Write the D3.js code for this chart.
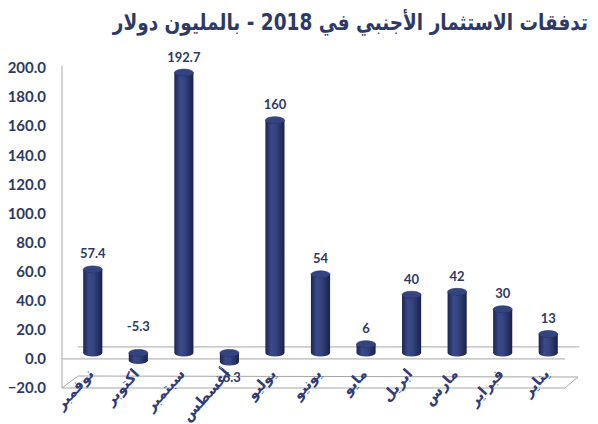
<!DOCTYPE html>
<html>
<head>
<meta charset="utf-8">
<script src="https://cdn.jsdelivr.net/npm/d3@7"></script>
<style>
  body { margin: 0; background: #fff; }
  svg { display: block; }
</style>
</head>
<body>
<div id="chart"></div>
<script>
// months from January (right) to November (left)
var months = ['يناير', 'فبراير', 'مارس', 'ابريل', 'مايو', 'يونيو', 'يوليو', 'أغسطس', 'سبتمبر', 'اكتوبر', 'نوفمبر'];
var values = [13, 30, 42, 40, 6, 54, 160, -6.3, 192.7, -5.3, 57.4];
var valueLabels = ['13', '30', '42', '40', '6', '54', '160', '-6.3', '192.7', '-5.3', '57.4'];
var yTicks = [-20, 0, 20, 40, 60, 80, 100, 120, 140, 160, 180, 200];
var title = 'تدفقات الاستثمار الأجنبي في 2018 - بالمليون دولار';

var width = 598;
var height = 424;
var depth = { x: 16, y: -12 };   // 3d offset of the back wall
var navy = '#2d3a66';

var svg = d3.select('#chart').
    append('svg').
    attr('width', width).
    attr('height', height);

var defs = svg.append('defs');
var grad = defs.append('linearGradient').
    attr('id', 'cyl').
    attr('x1', '0%').attr('x2', '100%').
    attr('y1', '0%').attr('y2', '0%');
grad.append('stop').attr('offset', '0%').attr('stop-color', '#1b2550');
grad.append('stop').attr('offset', '30%').attr('stop-color', '#3a4a8a');
grad.append('stop').attr('offset', '55%').attr('stop-color', '#34447f');
grad.append('stop').attr('offset', '100%').attr('stop-color', '#18214a');

// order left to right: November ... January
var domain = months.slice().reverse();

var xScale = d3.scaleBand().
    domain(domain).
    range([70, 571]);

var yScale = d3.scaleLinear().
    domain([-20, 200]).
    range([388, 68]);

// bars sit half way into the depth
var barY = d3.scaleLinear().
    domain(yScale.domain()).
    range(yScale.range().map(function (r) { return r + depth.y / 2; }));

var x0 = 62;
var x1 = 565;

// frame: back wall axis line, zero lines, floor
var frame = svg.append('g').
    attr('stroke', '#a6a6a6').
    attr('stroke-width', 1).
    attr('fill', 'none');

frame.append('line').
    attr('x1', x0).attr('x2', x0).
    attr('y1', yScale(200) - 2).attr('y2', yScale(-20));

frame.append('line').
    attr('x1', x0 + depth.x).attr('x2', x1 + depth.x - 2).
    attr('y1', yScale(0) + depth.y).attr('y2', yScale(0) + depth.y);

frame.append('line').
    attr('x1', x0).attr('x2', x1).
    attr('y1', yScale(0)).attr('y2', yScale(0));

frame.append('path').
    attr('d', 'M' + x0 + ',' + yScale(-20) +
        'L' + x1 + ',' + yScale(-20) +
        'L' + (x1 + depth.x - 3) + ',' + (yScale(-20) + depth.y + 1) +
        'L' + (x0 + depth.x) + ',' + (yScale(-20) + depth.y) + 'Z');

// y axis labels
var yAxis = d3.axisLeft(yScale).
    tickValues(yTicks).
    tickSize(0).
    tickPadding(0).
    tickFormat(d3.format('.1f'));

var yg = svg.append('g').
    attr('transform', 'translate(46,0)').
    call(yAxis);
yg.select('.domain').remove();
yg.selectAll('text').
    attr('fill', navy).
    attr('font-family', 'Lato, sans-serif').
    attr('font-weight', 'bold').
    attr('font-size', '15px');

// cylinders
var bw = xScale.bandwidth() * 0.42;
var ry = 3.5;
var data = domain.map(function (m) {
    var i = months.indexOf(m);
    return { month: m, value: values[i], label: valueLabels[i] };
});

var bars = svg.append('g').
    selectAll('g').
    data(data).
    enter().
    append('g');

bars.each(function (d) {
    var g = d3.select(this);
    var cx = xScale(d.month) + xScale.bandwidth() / 2;
    var top = barY(Math.max(0, d.value));
    var bot = barY(Math.min(0, d.value));
    g.append('path').
        attr('d', 'M' + (cx - bw / 2) + ',' + top +
            'L' + (cx - bw / 2) + ',' + bot +
            'A' + (bw / 2) + ',' + ry + ' 0 0 0 ' + (cx + bw / 2) + ',' + bot +
            'L' + (cx + bw / 2) + ',' + top + 'Z').
        attr('fill', 'url(#cyl)');
    g.append('ellipse').
        attr('cx', cx).
        attr('cy', top).
        attr('rx', bw / 2).
        attr('ry', ry).
        attr('fill', '#34447e').
        attr('stroke', '#263366').
        attr('stroke-width', 0.6);
});

// month labels, rotated
svg.append('g').
    selectAll('text').
    data(domain).
    enter().
    append('text').
    attr('transform', function (m) {
        var cx = xScale(m) + xScale.bandwidth() / 2;
        return 'translate(' + (cx - 3) + ',' + 370 + ') rotate(-48)';
    }).
    attr('dy', '0.45em').
    attr('text-anchor', 'end').
    attr('fill', '#2e3c7a').
    attr('font-family', '"DejaVu Sans", sans-serif').
    attr('font-weight', 'bold').
    attr('font-size', '14.5px').
    text(function (m) { return m; });

// data labels, one negative label sits under its bar
var labelsBelow = ['أغسطس'];
svg.append('g').
    selectAll('text').
    data(data).
    enter().
    append('text').
    attr('x', function (d) { return xScale(d.month) + xScale.bandwidth() / 2; }).
    attr('y', function (d) {
        if (labelsBelow.indexOf(d.month) >= 0) {
            return barY(d.value) + 20;
        }
        if (d.value < 0) {
            return barY(0) - 22;
        }
        return barY(d.value) - 11;
    }).
    attr('text-anchor', 'middle').
    attr('fill', navy).
    attr('font-family', 'Lato, sans-serif').
    attr('font-weight', 'bold').
    attr('font-size', '13px').
    text(function (d) { return d.label; });

// title
svg.append('text').
    attr('transform', 'translate(588,30) scale(1,1.2)').
    attr('text-anchor', 'end').
    attr('fill', navy).
    attr('font-family', '"DejaVu Sans", sans-serif').
    attr('font-weight', 'bold').
    attr('font-size', '18.5px').
    text(title);
</script>
</body>
</html>
